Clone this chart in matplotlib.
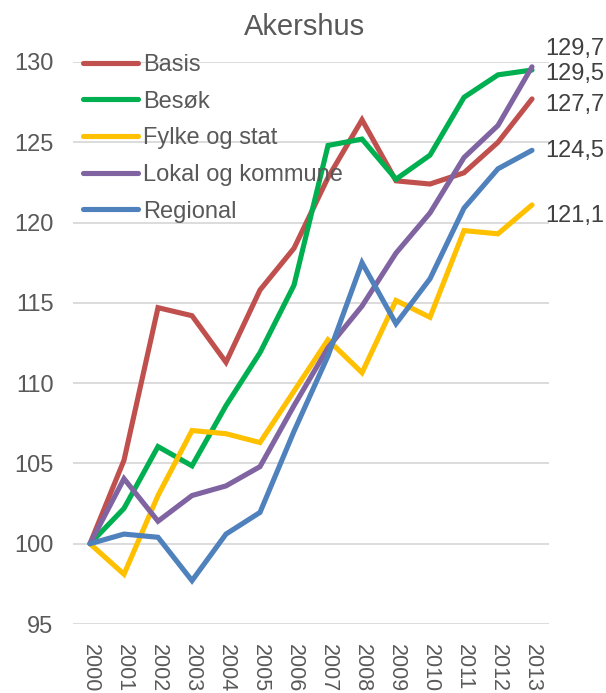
import matplotlib.pyplot as plt
import numpy as np

plt.rcParams["font.family"] = ["Liberation Sans", "DejaVu Sans"]

years = list(range(2000, 2014))
series_names = ["Basis", "Besøk", "Fylke og stat", "Lokal og kommune", "Regional"]
basis = [100, 105.2, 114.7, 114.2, 111.3, 115.8, 118.4, 122.8, 126.4, 122.6, 122.4, 123.1, 125.0, 127.7]
besok = [100, 102.2, 106.05, 104.85, 108.6, 111.9, 116.1, 124.8, 125.2, 122.7, 124.2, 127.8, 129.2, 129.5]
fylke = [100, 98.1, 103.0, 107.05, 106.85, 106.3, 109.5, 112.7, 110.65, 115.15, 114.1, 119.5, 119.3, 121.1]
lokal = [100, 104.05, 101.4, 103.0, 103.6, 104.8, 108.6, 112.2, 114.8, 118.1, 120.6, 124.05, 126.05, 129.7]
regional = [100, 100.6, 100.4, 97.7, 100.6, 101.95, 107.0, 111.7, 117.5, 113.7, 116.5, 120.9, 123.35, 124.5]

colors = ["#C0504D", "#00B050", "#FFC000", "#8064A2", "#4F81BD"]
# vertical pixel offsets for the end-value labels (to avoid overlap)
label_dy = [-12, -10, -17, 12, -6.5]

grey = "#595959"

fig = plt.figure(figsize=(6.06, 6.93), dpi=100)
ax = fig.add_axes([73 / 606, 1 - 624 / 693, 476 / 606, 562 / 693])

x = np.arange(len(years))
for name, vals, col in zip(series_names, [basis, besok, fylke, lokal, regional], colors):
    ax.plot(x, vals, color=col, linewidth=3.7, solid_capstyle="round",
            solid_joinstyle="miter", label=name)

for vals, dy in zip([basis, besok, fylke, lokal, regional], label_dy):
    ax.annotate(f"{vals[-1]:.1f}".replace(".", ","), xy=(x[-1], vals[-1]),
                xytext=(13, dy), textcoords="offset pixels",
                ha="left", va="baseline", fontsize=17, color="#404040",
                annotation_clip=False)

ax.set_xlim(-0.5, len(years) - 0.5)
ax.set_ylim(95, 130)
ax.set_yticks(np.arange(95, 131, 5))
ax.set_xticks(x)
ax.set_xticklabels([str(y) for y in years], rotation=270)
ax.grid(axis="y", color="#D9D9D9", linewidth=1.3)
ax.set_axisbelow(True)
for s in ax.spines.values():
    s.set_visible(False)
ax.tick_params(axis="both", length=0, labelcolor=grey)
ax.tick_params(axis="x", pad=14.5, labelsize=15.5)
ax.tick_params(axis="y", pad=14, labelsize=17)

ax.legend(loc="upper left", bbox_to_anchor=(83 / 606, 1 - 54 / 693),
          bbox_transform=fig.transFigure, frameon=False, fontsize=17,
          handlelength=2.33, handletextpad=0.2, labelspacing=0.62,
          borderpad=0, borderaxespad=0, labelcolor=grey)

fig.text(304.5 / 606, 1 - 35 / 693, "Akershus", ha="center", va="baseline",
         fontsize=21, color=grey)

fig.savefig("out.png", dpi=100)
